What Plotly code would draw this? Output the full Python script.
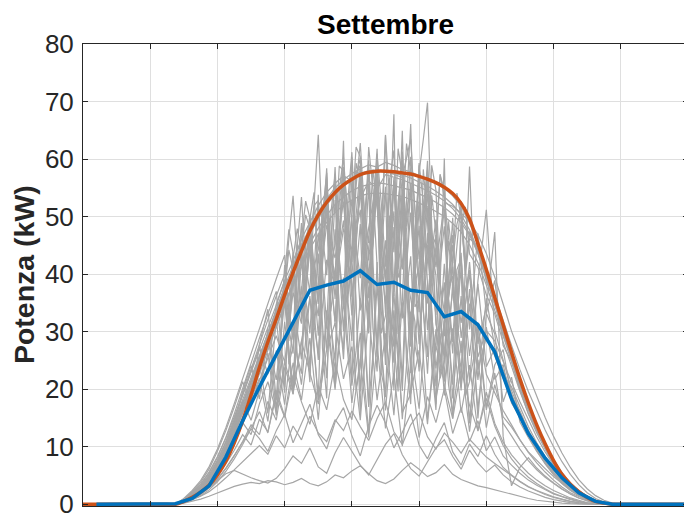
import numpy as np
import plotly.graph_objects as go

# ---- time axes (hours) ----
DAY_START, DAY_END = 4.0, 22.0
GRID_T = list(np.arange(6.5, 20.01, 0.25))     # 15-min samples, 55 values
MID_T = list(np.arange(10.125, 15.376, 0.25))  # extra midday samples, 22 values

# ---- daily power profiles (kW), September ----
day_01 = [0, 0, 0.8, 1.8, 3.0, 4.8, 7.2, 10.2, 13.8, 17.6, 21.5,
          25.6, 29.8, 33.9, 37.8, 41.5, 45.0, 48.2, 50.8, 53.1, 55.0, 56.4,
          57.5, 58.3, 59.0, 58.6, 59.4, 58.9, 58.2, 57.8, 57.1, 56.6, 55.8,
          54.9, 53.6, 51.8, 48.9, 45.2, 40.6, 35.8, 30.9, 26.0, 21.4, 17.3,
          13.8, 10.5, 7.7, 5.3, 3.6, 2.3, 1.3, 0.6, 0.2, 0, 0]
day_02 = [0, 0, 0.6, 1.5, 2.6, 4.2, 6.5, 9.4, 12.9, 16.8, 20.6,
          24.9, 28.3, 33.5, 36.2, 42.8, 44.1, 49.6, 38.3, 53.8, 45.2, 57.9,
          44.3, 60.2, 48.1, 58.7, 39.0, 61.5, 47.8, 57.9, 41.2, 58.1, 46.4,
          54.6, 42.1, 51.3, 46.2, 44.8, 38.7, 35.1, 29.4, 25.3, 20.1, 16.4,
          12.8, 9.9, 7.1, 4.9, 3.2, 2.0, 1.1, 0.4, 0.1, 0, 0]
day_03 = [0, 0, 0.9, 2.1, 3.5, 5.6, 8.3, 11.5, 15.2, 19.1, 23.0,
          26.8, 30.5, 34.6, 38.9, 42.3, 46.1, 49.0, 51.9, 54.2, 55.8, 57.1,
          56.2, 58.9, 42.4, 57.3, 38.6, 55.1, 32.3, 50.7, 27.8, 47.2, 20.5,
          41.8, 18.4, 36.2, 14.1, 30.8, 22.6, 19.4, 16.3, 13.8, 11.2, 9.1,
          7.6, 6.2, 4.8, 3.6, 2.5, 1.6, 0.9, 0.4, 0.1, 0, 0]
day_04 = [0, 0, 0.4, 1.1, 2.0, 3.4, 5.5, 8.1, 11.2, 14.9, 18.8,
          22.7, 26.9, 30.8, 34.9, 38.6, 42.1, 45.3, 48.0, 50.2, 52.1, 53.4,
          54.5, 55.2, 55.6, 55.9, 55.7, 55.4, 55.0, 54.6, 54.0, 53.3, 52.5,
          51.6, 50.4, 48.9, 46.8, 44.1, 40.5, 36.4, 32.0, 27.6, 23.4, 19.6,
          16.1, 12.9, 10.0, 7.4, 5.2, 3.4, 2.0, 1.0, 0.4, 0.1, 0]
day_05 = [0, 0, 0.7, 1.6, 2.8, 4.5, 6.9, 9.8, 13.4, 17.3, 21.2,
          25.3, 29.2, 33.0, 36.9, 40.8, 44.6, 47.9, 35.2, 56.8, 39.5, 60.3,
          42.1, 62.8, 45.4, 51.2, 64.1, 43.8, 57.2, 60.4, 42.6, 55.3, 44.1,
          53.2, 41.9, 49.8, 47.1, 43.6, 39.2, 34.7, 29.9, 25.1, 20.6, 16.5,
          13.0, 9.9, 7.3, 5.0, 3.3, 2.1, 1.2, 0.5, 0.2, 0, 0]
day_06 = [0, 0, 0.5, 1.3, 2.3, 3.8, 6.0, 8.8, 12.1, 15.9, 19.6,
          23.5, 27.3, 31.0, 34.6, 38.1, 41.4, 44.4, 46.9, 49.0, 50.7, 52.0,
          52.9, 53.6, 54.0, 54.1, 54.0, 53.8, 53.5, 53.0, 52.4, 51.7, 50.9,
          50.0, 48.8, 47.3, 45.1, 42.0, 38.1, 33.8, 29.3, 24.8, 20.5, 16.6,
          13.2, 10.2, 7.6, 5.4, 3.7, 2.4, 1.4, 0.6, 0.2, 0, 0]
day_07 = [0, 0, 0.8, 1.9, 3.2, 5.1, 7.6, 10.7, 14.3, 18.2, 22.1,
          26.0, 29.9, 33.6, 37.4, 40.9, 44.3, 47.4, 50.1, 52.4, 54.3, 55.7,
          56.8, 57.5, 58.0, 58.1, 57.9, 57.4, 56.8, 63.5, 38.2, 59.7, 31.3,
          25.8, 36.9, 52.7, 30.4, 47.1, 33.2, 38.9, 27.6, 24.8, 19.9, 15.7,
          12.4, 9.6, 7.0, 4.8, 3.2, 2.0, 1.1, 0.4, 0.1, 0, 0]
day_08 = [0, 0, 0.6, 1.4, 2.5, 4.1, 6.4, 9.3, 12.8, 16.7, 20.7,
          24.6, 28.5, 32.4, 36.1, 39.8, 43.2, 46.4, 52.8, 31.3, 58.6, 34.7,
          61.2, 39.3, 57.8, 25.6, 55.2, 37.9, 59.4, 30.8, 56.3, 42.1, 54.6,
          33.4, 42.0, 50.1, 47.4, 43.9, 39.6, 35.0, 30.2, 25.4, 20.9, 16.8,
          13.3, 10.2, 7.5, 5.2, 3.5, 2.2, 1.2, 0.5, 0.2, 0, 0]
day_09 = [0, 0, 0.7, 1.7, 2.9, 4.6, 7.0, 9.9, 13.5, 17.4, 21.4,
          25.4, 29.4, 33.3, 37.0, 40.6, 43.9, 47.0, 49.7, 52.0, 53.9, 55.4,
          56.5, 57.3, 57.8, 58.0, 57.9, 57.6, 57.2, 56.7, 56.0, 55.3, 54.4,
          53.4, 52.1, 50.3, 47.7, 44.2, 39.9, 35.2, 30.4, 25.6, 21.1, 17.0,
          13.5, 10.4, 7.7, 5.4, 3.6, 2.3, 1.3, 0.6, 0.2, 0, 0]
day_10 = [0, 0, 0.5, 1.2, 2.2, 3.7, 5.9, 8.7, 12.1, 16.0, 19.9,
          23.9, 27.6, 31.6, 35.2, 39.5, 32.1, 46.3, 37.8, 51.6, 40.2, 54.8,
          42.6, 56.1, 38.4, 55.9, 32.8, 56.3, 41.9, 55.2, 35.7, 53.9, 39.8,
          31.2, 37.6, 48.3, 43.5, 41.2, 36.4, 33.1, 28.2, 24.0, 19.6, 15.8,
          12.6, 9.7, 7.1, 4.9, 3.3, 2.1, 1.1, 0.5, 0.1, 0, 0]
day_11 = [0, 0, 0.6, 1.5, 2.7, 4.4, 6.8, 9.9, 14.2, 19.6, 24.1,
          18.3, 30.7, 16.4, 38.5, 20.9, 45.3, 21.2, 53.8, 18.4, 57.1, 26.9,
          60.3, 15.7, 55.8, 23.1, 64.2, 19.8, 52.6, 17.4, 58.9, 25.6, 47.2,
          60.1, 20.8, 42.9, 14.1, 31.6, 16.8, 24.2, 26.9, 18.5, 16.2, 12.7,
          10.1, 7.8, 5.9, 4.3, 2.9, 1.8, 1.0, 0.4, 0.1, 0, 0]
day_12 = [0, 0, 0.9, 2.2, 3.8, 6.1, 9.2, 12.8, 16.9, 21.3, 17.4,
          27.8, 33.9, 18.1, 41.6, 26.2, 48.9, 29.7, 44.2, 57.6, 31.8, 49.3,
          28.4, 55.7, 33.6, 61.8, 24.2, 50.9, 35.3, 66.1, 33.4, 49.1, 26.8,
          51.4, 28.2, 42.7, 25.8, 38.3, 23.9, 27.1, 23.4, 19.2, 15.6, 12.1,
          9.3, 7.0, 5.1, 3.6, 2.4, 1.5, 0.8, 0.3, 0.1, 0, 0]
day_13 = [0, 0, 0.4, 1.0, 1.8, 2.9, 4.3, 6.2, 8.4, 10.9, 13.8,
          12.1, 17.9, 14.6, 23.8, 19.2, 28.4, 35.7, 26.3, 42.5, 38.1, 47.9,
          44.3, 53.1, 56.2, 54.8, 57.3, 56.9, 56.4, 55.8, 55.2, 54.5, 53.7,
          52.7, 51.4, 49.6, 47.0, 43.6, 39.4, 34.8, 30.1, 25.4, 21.0, 17.0,
          13.6, 10.5, 7.8, 5.5, 3.7, 2.4, 1.4, 0.6, 0.2, 0, 0]
day_14 = [0, 0, 0.5, 1.3, 2.4, 3.9, 6.1, 8.9, 12.3, 16.2, 20.3,
          24.4, 15.8, 32.1, 19.4, 39.8, 22.7, 45.6, 18.3, 51.9, 24.8, 63.2,
          21.5, 48.7, 16.9, 55.4, 26.3, 67.8, 19.7, 43.1, 23.9, 58.2, 17.4,
          38.6, 14.9, 41.2, 21.3, 29.7, 16.4, 22.8, 14.1, 11.9, 9.6, 7.6,
          6.0, 4.7, 3.6, 2.6, 1.8, 1.1, 0.6, 0.2, 0, 0, 0]
day_15 = [0, 0, 0.8, 2.0, 3.4, 5.4, 8.1, 11.6, 15.7, 20.2, 24.6,
          28.9, 33.1, 37.0, 20.4, 43.8, 25.2, 49.6, 32.7, 58.4, 31.3, 55.9,
          32.8, 51.2, 29.7, 57.6, 34.8, 28.2, 53.9, 27.4, 51.6, 30.3, 46.8,
          25.2, 39.7, 23.4, 42.1, 25.6, 30.2, 28.4, 24.7, 21.2, 17.8, 14.6,
          11.7, 9.1, 6.8, 4.9, 3.3, 2.1, 1.2, 0.5, 0.2, 0, 0]
day_16 = [0, 0, 0.6, 1.4, 2.5, 4.0, 6.2, 9.0, 12.5, 16.4, 20.5,
          24.7, 28.8, 21.6, 35.3, 19.4, 42.6, 23.8, 47.2, 26.5, 52.9, 30.1,
          56.4, 33.7, 59.8, 27.2, 54.1, 36.8, 61.3, 28.9, 57.6, 69.8, 32.3,
          24.7, 45.1, 28.9, 40.2, 21.6, 35.8, 27.3, 22.6, 20.4, 16.8, 13.5,
          10.7, 8.3, 6.2, 4.5, 3.0, 1.9, 1.0, 0.4, 0.1, 0, 0]
day_17 = [0, 0, 0.7, 1.7, 3.0, 4.9, 7.5, 10.8, 14.7, 18.9, 23.2,
          27.3, 22.6, 34.8, 38.9, 27.5, 46.2, 49.8, 25.1, 55.4, 20.7, 58.6,
          37.3, 23.9, 62.1, 41.4, 18.6, 56.7, 64.9, 22.8, 59.3, 38.6, 16.4,
          21.7, 49.8, 26.3, 37.4, 14.9, 33.2, 29.6, 17.8, 22.1, 14.3, 11.6,
          9.2, 7.1, 5.3, 3.8, 2.6, 1.6, 0.9, 0.3, 0.1, 0, 0]
day_18 = [0, 0, 0.5, 1.2, 2.1, 3.5, 5.5, 8.0, 11.1, 14.6, 18.2,
          21.9, 14.4, 26.7, 17.3, 31.5, 20.8, 36.2, 18.1, 33.7, 19.9, 39.4,
          20.6, 35.8, 17.2, 42.1, 19.4, 36.7, 14.8, 33.5, 16.6, 38.2, 18.3,
          31.9, 15.7, 28.4, 12.6, 25.1, 13.3, 20.8, 15.2, 13.4, 11.1, 9.0,
          7.2, 5.6, 4.2, 3.0, 2.0, 1.3, 0.7, 0.3, 0.1, 0, 0]
day_19 = [0, 0, 1.0, 2.4, 4.1, 6.5, 9.6, 13.3, 17.5, 21.9, 26.4,
          30.8, 35.1, 39.2, 43.3, 28.6, 53.4, 36.9, 64.2, 39.8, 57.3, 34.6,
          52.9, 58.4, 30.7, 55.6, 39.2, 27.4, 54.8, 35.7, 23.1, 51.6, 32.9,
          48.3, 26.2, 43.7, 21.4, 38.9, 51.2, 30.2, 25.1, 19.8, 16.1, 12.9,
          10.3, 8.0, 6.0, 4.3, 2.9, 1.8, 1.0, 0.4, 0.1, 0, 0]
day_20 = [0, 0, 0.4, 1.0, 1.9, 3.2, 5.0, 7.4, 10.4, 13.9, 17.6,
          21.5, 25.4, 29.3, 24.7, 36.8, 31.4, 43.9, 37.2, 48.5, 42.8, 52.6,
          36.1, 55.3, 39.7, 57.4, 33.2, 56.1, 40.8, 54.6, 37.3, 53.9, 41.2,
          52.4, 51.8, 50.6, 49.1, 46.9, 43.6, 39.5, 34.8, 30.1, 26.2, 22.4,
          18.7, 15.1, 11.8, 8.9, 6.4, 4.3, 2.7, 1.5, 0.7, 0.2, 0]
day_21 = [0, 0, 0.7, 1.6, 2.9, 4.7, 7.1, 10.2, 13.9, 18.0, 14.6,
          19.8, 26.3, 15.4, 31.7, 19.1, 37.9, 22.5, 43.6, 21.9, 47.8, 25.2,
          50.3, 19.6, 44.7, 53.1, 26.4, 48.2, 21.7, 55.9, 29.8, 45.1, 23.6,
          18.9, 38.7, 20.3, 34.9, 16.5, 30.8, 21.7, 24.3, 17.6, 15.2, 11.8,
          9.4, 7.3, 5.5, 4.0, 2.7, 1.7, 0.9, 0.4, 0.1, 0, 0]
day_22 = [0, 0, 0.6, 1.5, 2.6, 4.3, 6.6, 9.6, 13.2, 17.2, 21.3,
          25.5, 29.6, 33.6, 37.5, 53.6, 34.8, 47.6, 29.3, 53.2, 35.7, 56.9,
          39.4, 58.7, 32.5, 60.9, 41.3, 36.2, 57.1, 28.6, 52.8, 34.9, 49.5,
          29.2, 46.8, 31.5, 40.7, 27.9, 34.3, 47.3, 11.8, 3.2, 6.4, 8.1,
          6.3, 4.9, 3.7, 2.7, 1.8, 1.1, 0.6, 0.2, 0, 0, 0]
day_23 = [0, 0, 0.3, 0.8, 1.5, 2.5, 3.9, 5.7, 7.9, 10.4, 13.2,
          16.1, 12.4, 19.8, 15.3, 24.6, 18.1, 28.9, 14.7, 31.6, 20.3, 35.2,
          17.6, 29.8, 12.4, 38.1, 16.3, 33.7, 15.9, 19.2, 36.4, 14.8, 27.5,
          21.3, 30.6, 15.9, 24.2, 12.7, 19.5, 14.1, 10.8, 8.6, 6.9, 5.4,
          4.2, 3.2, 2.4, 1.7, 1.1, 0.7, 0.3, 0.1, 0, 0, 0]
day_24 = [0, 0, 0.8, 1.8, 3.1, 5.0, 7.6, 10.9, 14.8, 19.2, 23.6,
          27.9, 32.1, 36.2, 40.0, 43.7, 37.1, 50.2, 34.8, 55.6, 38.1, 58.3,
          50.7, 60.4, 35.8, 57.2, 45.9, 24.6, 53.3, 29.8, 48.4, 22.7, 44.6,
          26.1, 41.3, 19.8, 58.7, 23.4, 29.1, 25.8, 21.9, 18.4, 15.1, 12.2,
          9.7, 7.5, 5.6, 4.0, 2.7, 1.7, 0.9, 0.4, 0.1, 0, 0]
day_25 = [0, 0, 0.2, 0.5, 0.9, 1.4, 2.0, 2.6, 3.1, 3.5, 3.8,
          3.6, 4.1, 3.9, 3.4, 3.8, 4.5, 3.6, 3.2, 3.9, 5.1, 4.6,
          5.8, 6.7, 5.3, 4.1, 3.6, 4.4, 5.9, 7.2, 6.1, 4.8, 5.5,
          6.9, 5.2, 4.3, 3.8, 3.2, 2.9, 2.5, 2.1, 1.7, 1.3, 1.0,
          0.7, 0.5, 0.3, 0.2, 0.1, 0, 0, 0, 0, 0, 0]
day_26 = [0, 0, 0.3, 0.8, 1.4, 2.2, 3.3, 4.6, 6.0, 7.4, 8.9,
          10.2, 8.7, 11.9, 9.8, 13.6, 11.2, 15.3, 12.4, 10.9, 14.7, 12.8,
          16.2, 13.5, 11.1, 14.9, 17.8, 12.6, 10.4, 13.8, 15.9, 11.7, 9.6,
          12.4, 10.8, 8.9, 11.3, 9.7, 8.2, 7.1, 6.0, 4.9, 3.9, 3.0,
          2.3, 1.7, 1.2, 0.8, 0.5, 0.3, 0.1, 0, 0, 0, 0]
day_27 = [0, 0, 0.4, 1.1, 2.0, 3.2, 4.9, 7.0, 9.4, 12.1, 10.3,
          14.8, 12.6, 18.9, 15.1, 22.4, 17.8, 13.9, 20.6, 16.4, 24.8, 18.2,
          14.7, 25.3, 11.6, 27.9, 13.2, 22.8, 10.1, 24.4, 11.6, 18.7, 14.2,
          20.1, 12.3, 16.8, 10.9, 14.5, 9.3, 11.7, 8.4, 6.8, 5.4, 4.2,
          3.3, 2.5, 1.8, 1.3, 0.8, 0.5, 0.2, 0.1, 0, 0, 0]
day_28 = [0, 0, 0.3, 0.9, 1.7, 2.8, 4.1, 5.3, 5.9, 5.2, 4.6,
          4.1, 3.7, 4.5, 6.2, 8.4, 7.1, 9.8, 6.5, 5.4, 8.9, 11.6,
          9.2, 6.8, 5.1, 7.7, 10.4, 12.3, 8.6, 6.2, 4.9, 7.4, 9.8,
          11.2, 8.3, 6.1, 9.4, 7.2, 5.6, 6.8, 5.1, 3.9, 3.0, 2.3,
          1.7, 1.2, 0.8, 0.5, 0.3, 0.1, 0, 0, 0, 0, 0]
day_29 = [0, 0, 0.5, 1.2, 2.2, 3.6, 5.6, 8.1, 11.0, 14.2, 12.1,
          17.5, 21.3, 16.2, 24.7, 19.8, 28.3, 22.6, 17.4, 26.9, 31.5, 21.8,
          27.4, 14.6, 33.2, 18.1, 29.7, 15.5, 35.1, 19.3, 26.8, 13.9, 30.4,
          20.7, 14.9, 23.6, 17.2, 12.8, 18.4, 13.6, 10.2, 7.9, 6.1, 4.7,
          3.6, 2.7, 1.9, 1.4, 0.9, 0.5, 0.2, 0.1, 0, 0, 0]
day_30 = [0, 0, 0.4, 1.0, 1.8, 2.9, 4.4, 6.3, 8.5, 10.8, 13.1,
          11.4, 9.2, 12.8, 15.6, 10.7, 13.9, 17.4, 12.1, 9.6, 14.3, 16.8,
          11.9, 8.4, 13.6, 17.2, 14.1, 9.8, 12.5, 15.7, 10.3, 7.9, 11.4,
          14.2, 9.1, 6.8, 10.5, 8.3, 11.9, 8.7, 6.4, 5.1, 4.0, 3.1,
          2.4, 1.8, 1.3, 0.9, 0.5, 0.3, 0.1, 0, 0, 0, 0]

# ---- extra midday samples (kW) at MID_T for the cloudier days ----
mid_02 = [31.5, 47.9, 36.8, 54.2, 43.1, 41.6, 58.8, 35.2, 56.9, 42.7, 52.3,
          47.5, 56.4, 40.9, 62.7, 38.4, 51.8, 44.6, 57.2, 35.9, 48.7, 39.8]
mid_05 = [44.2, 35.8, 50.3, 41.2, 48.7, 44.1, 54.6, 49.8, 55.3, 50.9, 58.2,
          44.7, 52.9, 61.8, 48.3, 52.1, 50.8, 38.7, 57.4, 46.3, 54.1, 40.6]
mid_08 = [28.4, 45.1, 35.2, 51.9, 40.7, 45.6, 42.2, 52.4, 44.8, 50.1, 38.9,
          47.3, 26.9, 52.6, 41.4, 47.2, 35.6, 58.9, 38.5, 49.2, 28.1, 41.3]
mid_10 = [30.1, 43.6, 39.4, 30.8, 50.2, 33.5, 48.1, 36.7, 59.3, 47.2, 44.9,
          29.7, 48.5, 39.4, 50.7, 34.3, 49.6, 44.2, 24.6, 45.8, 27.9, 51.7]
mid_11 = [26.4, 34.8, 29.7, 40.3, 27.1, 44.6, 31.9, 48.2, 34.1, 41.8, 30.6,
          47.9, 36.4, 42.7, 24.3, 45.1, 33.8, 53.7, 38.2, 29.4, 35.6, 26.1]
mid_12 = [30.7, 39.6, 35.8, 41.2, 50.3, 38.9, 44.7, 35.6, 46.2, 39.9, 51.3,
          37.4, 43.8, 29.6, 52.7, 41.6, 58.2, 31.7, 44.3, 35.9, 40.8, 33.2]
mid_14 = [33.7, 25.8, 38.1, 27.4, 41.6, 31.2, 45.8, 34.6, 40.2, 28.9, 44.7,
          33.5, 47.9, 30.4, 36.8, 27.6, 44.3, 29.1, 31.7, 24.8, 32.6, 18.9]
mid_15 = [35.6, 30.1, 41.7, 36.9, 47.2, 40.5, 44.8, 42.7, 47.3, 38.2, 46.9,
          41.3, 50.2, 19.6, 44.1, 39.8, 42.5, 38.7, 33.6, 37.4, 28.9, 34.5]
mid_16 = [27.1, 31.4, 34.2, 36.8, 38.9, 40.2, 41.7, 44.5, 45.1, 47.8, 42.3,
          43.6, 46.2, 50.7, 44.9, 42.1, 63.4, 48.5, 21.9, 36.3, 38.7, 34.6]
mid_17 = [24.3, 41.8, 52.7, 33.6, 42.9, 31.8, 44.3, 51.2, 19.8, 45.6, 54.8,
          27.3, 38.4, 47.2, 38.6, 44.9, 52.4, 24.1, 33.8, 38.2, 31.7, 29.4]
mid_18 = [23.6, 25.4, 27.9, 26.8, 24.3, 27.1, 29.5, 28.4, 26.7, 31.2, 25.9,
          22.8, 27.4, 26.3, 24.1, 21.9, 25.7, 24.6, 22.3, 20.8, 21.4, 18.9]
mid_19 = [33.2, 44.9, 41.6, 52.3, 47.1, 50.6, 42.8, 47.3, 44.6, 41.2, 49.7,
          43.8, 31.6, 45.2, 40.1, 31.8, 42.4, 38.7, 41.5, 35.2, 38.4, 30.7]
mid_21 = [24.8, 29.3, 28.6, 34.1, 31.2, 36.8, 33.9, 39.7, 34.5, 31.8, 49.2,
          38.6, 35.1, 34.7, 41.3, 40.6, 36.2, 33.4, 29.7, 27.5, 30.1, 26.8]
mid_22 = [46.2, 41.9, 43.1, 38.5, 42.7, 44.8, 47.3, 46.1, 50.2, 44.6, 47.8,
          52.3, 56.8, 47.4, 41.9, 43.7, 42.3, 43.8, 37.6, 39.4, 36.7, 37.2]
mid_24 = [47.8, 33.6, 44.9, 40.7, 47.3, 43.9, 52.4, 41.2, 62.1, 46.3, 51.9,
          38.4, 33.2, 44.1, 36.5, 39.8, 33.6, 36.4, 32.8, 35.9, 27.3, 41.6]

DAYS = [day_01, day_02, day_03, day_04, day_05, day_06, day_07, day_08, day_09, day_10,
        day_11, day_12, day_13, day_14, day_15, day_16, day_17, day_18, day_19, day_20,
        day_21, day_22, day_23, day_24, day_25, day_26, day_27, day_28, day_29, day_30]
MIDS = {2: mid_02, 5: mid_05, 8: mid_08, 10: mid_10, 11: mid_11, 12: mid_12,
        14: mid_14, 15: mid_15, 16: mid_16, 17: mid_17, 18: mid_18, 19: mid_19,
        21: mid_21, 22: mid_22, 24: mid_24}

# ---- reference (clear-sky) curve, 15-min ----
ORANGE_T = [4.0] + GRID_T + [22.0]
ORANGE_P = [0,
            0, 0, 0.5, 1.2, 2.1, 3.3, 5.1, 7.5, 10.7, 14.5, 19.0,
            23.8, 28.2, 32.2, 36.4, 40.3, 44.0, 47.5, 50.3, 52.5, 54.2, 55.5,
            56.5, 57.3, 57.7, 57.9, 57.9, 57.8, 57.6, 57.4, 57.0, 56.5, 55.9,
            55.1, 54.0, 52.3, 49.6, 45.3, 40.8, 36.0, 31.2, 26.4, 21.8, 17.6,
            13.8, 10.5, 7.6, 5.2, 3.5, 2.2, 1.2, 0.5, 0.2, 0, 0,
            0]

# ---- monthly mean curve ----
BLUE_T = [4.4, 6.75, 7.25, 7.75, 8.25, 8.75, 9.25, 9.75, 10.25, 10.75, 11.25, 11.75,
          12.25, 12.75, 13.25, 13.75, 14.25, 14.75, 15.25, 15.75, 16.25, 16.75,
          17.25, 17.75, 18.25, 18.75, 19.25, 19.75, 22.0]
BLUE_P = [0, 0.1, 1.0, 3.2, 8.2, 14.5, 20.4, 26.0, 31.7, 37.2, 38.1, 38.8,
          40.6, 38.2, 38.6, 37.2, 36.8, 32.6, 33.5, 31.2, 26.5, 18.3,
          12.3, 8.0, 4.6, 2.0, 0.5, 0, 0]

Y_TICKS = [0, 10, 20, 30, 40, 50, 60, 70, 80]
X_TICKS = [4, 6, 8, 10, 12, 14, 16, 18, 20, 22]

FONT = "Arial, 'Liberation Sans', Helvetica, sans-serif"
AX = '#262626'

fig = go.Figure()
for i, d in enumerate(DAYS, start=1):
    pts = list(zip(GRID_T, d))
    if i in MIDS:
        pts += list(zip(MID_T, MIDS[i]))
    pts.sort()
    xs = [DAY_START] + [p[0] for p in pts] + [DAY_END]
    ys = [0] + [p[1] for p in pts] + [0]
    fig.add_trace(go.Scatter(x=xs, y=ys, mode='lines',
                             line=dict(color='#A6A6A6', width=1.2),
                             hoverinfo='skip', showlegend=False))
fig.add_trace(go.Scatter(x=ORANGE_T, y=ORANGE_P, mode='lines',
                         line=dict(color='#CC5219', width=3.5, shape='spline', smoothing=1.0),
                         showlegend=False))
fig.add_trace(go.Scatter(x=BLUE_T, y=BLUE_P, mode='lines',
                         line=dict(color='#0072BD', width=3.5),
                         showlegend=False))

axis_common = dict(showline=True, linecolor=AX, linewidth=1, mirror='ticks',
                   ticks='inside', ticklen=5, tickcolor=AX, tickwidth=1,
                   showgrid=True, gridcolor='#DFDFDF', gridwidth=1, zeroline=False)

fig.update_xaxes(range=[DAY_START, DAY_END], tickvals=X_TICKS, showticklabels=False, **axis_common)
fig.update_yaxes(range=[-0.3, 80], tickvals=Y_TICKS, ticklabelstandoff=3,
                 ticklabeloverflow='allow',
                 tickfont=dict(family=FONT, size=26, color=AX), **axis_common)

# the page body has an 8px default margin, so the figure is offset by 8px
fig.update_layout(
    width=684, height=514,
    margin=dict(l=75, r=3, t=36, b=10),
    paper_bgcolor='white', plot_bgcolor='white',
    showlegend=False,
    title=dict(text='<b>Settembre</b>', x=0.5, xref='paper', xanchor='center',
               y=1 - 16 / 514, yref='container', yanchor='middle',
               font=dict(family=FONT, size=28, color='black')),
    annotations=[dict(text='<b>Potenza (kW)</b>', textangle=-90,
                      xref='paper', yref='paper', x=(16 - 75) / 606, y=0.5,
                      xanchor='center', yanchor='middle', showarrow=False,
                      font=dict(family=FONT, size=28.5, color=AX))],
)

fig.write_html("out.html")
